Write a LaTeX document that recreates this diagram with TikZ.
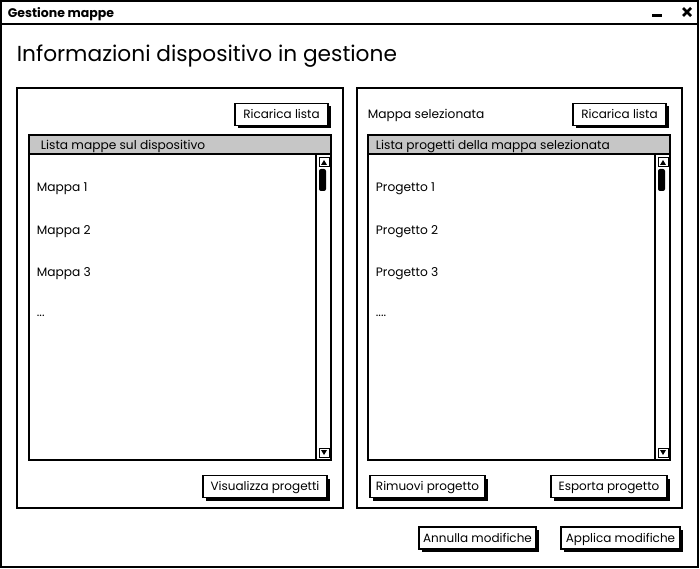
\documentclass[tikz,border=0pt]{standalone}
\usepackage{fontspec}
\setmainfont{Poppins}
\usetikzlibrary{shadows}

\tikzset{
  btn/.style={draw, fill=white, line width=1.5pt, minimum height=22, inner sep=0pt,
    text height=8.4, text depth=0, font=\fontsize{12}{14}\selectfont,
    drop shadow={shadow xshift=3pt, shadow yshift=-3pt, fill=black, opacity=1}},
  txt/.style={anchor=base west, inner sep=0pt, font=\fontsize{12.2}{14}\selectfont},
}

\begin{document}
\begin{tikzpicture}[x=1pt,y=-1pt,line width=1.8pt]
    \useasboundingbox (0,0) rectangle (700,569);
    \fill[white] (0,0) rectangle (700,569);
    \draw[line width=2pt] (1,1) rectangle (698,567);
    \draw[line width=2pt] (1,24)--(698,24);
    \node[txt, font=\fontsize{12.5}{14}\selectfont\bfseries] (title) at (7,18) {Gestione mappe};
    \draw[line width=3pt] (652,16)--(662,16);
    \draw[line width=2.5pt] (683,8)--(691,16);
    \draw[line width=2.5pt] (683,16)--(691,8);
    \node[txt, font=\fontsize{21.7}{26}\selectfont] (head) at (16,62) {Informazioni dispositivo in gestione};
    \draw (17,88) rectangle (343,508);
    \draw (357,88) rectangle (682,508);
    \node[btn, minimum width=93] (reloadmaps) at (281.5,114.5) {Ricarica lista};
    \node[txt] (selmap) at (367,119) {Mappa selezionata};
    \node[btn, minimum width=93] (reloadprj) at (619.5,114.5) {Ricarica lista};
    \fill[gray!45] (29,135) rectangle (331,154);
    \draw (29,135) rectangle (331,460);
    \draw (29,154)--(331,154);
    \draw (316,154)--(316,460);
    \draw[line width=1pt] (319,158) rectangle (329,167);
    \fill (321,165)--(327,165)--(324,160)--cycle;
    \fill[rounded corners=2] (319,169) rectangle (326,191);
    \draw[line width=1pt] (319,448) rectangle (329,457);
    \fill (321,450)--(327,450)--(324,455)--cycle;
    \node[txt] (maphead) at (40,150) {Lista mappe sul dispositivo};
    \node[txt] (map1) at (36,192) {Mappa 1};
    \node[txt] (map2) at (36,234) {Mappa 2};
    \node[txt] (map3) at (36,276) {Mappa 3};
    \node[txt] (mapdots) at (36,316) {...};
    \fill[gray!45] (368,135) rectangle (670,154);
    \draw (368,135) rectangle (670,460);
    \draw (368,154)--(670,154);
    \draw (655,154)--(655,460);
    \draw[line width=1pt] (658,158) rectangle (668,167);
    \fill (660,165)--(666,165)--(663,160)--cycle;
    \fill[rounded corners=2] (658,169) rectangle (665,191);
    \draw[line width=1pt] (658,448) rectangle (668,457);
    \fill (660,450)--(666,450)--(663,455)--cycle;
    \node[txt] (prjhead) at (375,150) {Lista progetti della mappa selezionata};
    \node[txt] (prj1) at (375,192) {Progetto 1};
    \node[txt] (prj2) at (375,234) {Progetto 2};
    \node[txt] (prj3) at (375,276) {Progetto 3};
    \node[txt] (prjdots) at (375,316) {....};
    \node[btn, minimum width=124] (showprj) at (265,486.5) {Visualizza progetti};
    \node[btn, minimum width=115] (delprj) at (427.5,486.5) {Rimuovi progetto};
    \node[btn, minimum width=116] (expprj) at (609,486.5) {Esporta progetto};
    \node[btn, minimum width=117] (undo) at (477.5,538) {Annulla modifiche};
    \node[btn, minimum width=119] (apply) at (620.5,538) {Applica modifiche};
\end{tikzpicture}
\end{document}
